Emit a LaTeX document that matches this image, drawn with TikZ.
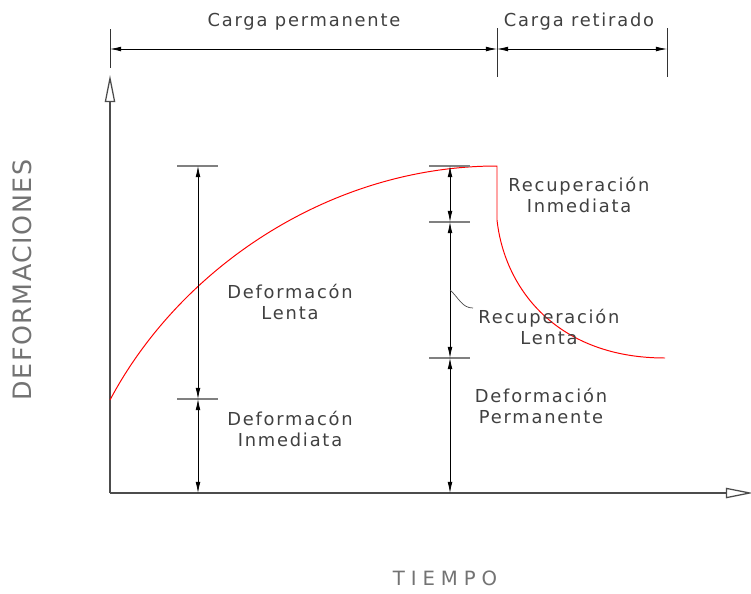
\documentclass[tikz,border=0pt]{standalone}
\usepackage{fontspec}
\newfontfamily\cadfont[LetterSpace=10]{DejaVu Sans}
\usetikzlibrary{arrows.meta}

\begin{document}
\begin{tikzpicture}[
  x=0.025cm, y=-0.025cm,
  dimline/.style={{Latex[length=2.8mm,width=1.2mm]}-{Latex[length=2.8mm,width=1.2mm]},
    black, line width=0.5pt},
  tickmark/.style={gray, line width=0.8pt},
  extline/.style={black!80, line width=0.6pt},
  axisline/.style={-{Triangle[open,length=6.8mm,width=2.6mm]},
    gray!60!black, line width=0.9pt},
  loadcurve/.style={red, line width=0.7pt},
  lbl/.style={font=\cadfont\fontsize{12.7}{15.6}\selectfont,
    text=black!75, align=center, inner sep=0pt},
  axislbl/.style={font=\cadfont\fontsize{18}{22}\selectfont\addfontfeature{LetterSpace=6},
    text=black!55, inner sep=0pt}
]
\useasboundingbox (0,0) rectangle (751,593);

% --- Ejes ---
\coordinate (O) at (110,493);
\coordinate (Ytop) at (110,75);
\coordinate (Xend) at (753,493);
\draw[axisline] (O) -- (Ytop);
\draw[axisline] (O) -- (Xend);

\node[axislbl, rotate=90] (ylab) at (22,280) {DEFORMACIONES};
\node[axislbl, font=\cadfont\fontsize{14}{16}\selectfont\addfontfeature{LetterSpace=30}]
  (xlab) at (445,578) {TIEMPO};

% --- Cotas superiores ---
\coordinate (T1) at (110,49);
\coordinate (T2) at (497,49);
\coordinate (T3) at (667,49);
\draw[extline] (110,29) -- (110,68);
\draw[extline] (497,28) -- (497,77);
\draw[extline] (667,28) -- (667,77);
\draw[dimline] (T1) -- (T2);
\draw[dimline] (T2) -- (T3);
\node[lbl] (cperm) at (304,22) {Carga permanente};
\node[lbl] (cret) at (579,22) {Carga retirado};

% --- Curva de deformacion ---
\coordinate (C0) at (110,400);
\coordinate (Cmax) at (497,166);
\coordinate (Crec) at (497,220);
\coordinate (Cend) at (665,358);
\draw[loadcurve] (C0) .. controls (180,268) and (330,166) .. (Cmax)
  -- (Crec) .. controls (505,292) and (560,358) .. (Cend);

% --- Cota izquierda ---
\coordinate (A1) at (198,166);
\coordinate (A2) at (198,399);
\coordinate (A3) at (198,493);
\draw[tickmark] (177,166) -- (218,166);
\draw[tickmark] (177,399) -- (218,399);
\draw[dimline] (A1) -- (A2);
\draw[dimline] (A2) -- (A3);

\node[lbl] (dlenta) at (290,302) {Deformacón\\Lenta};
\node[lbl] (dinm) at (290,429) {Deformacón\\Inmediata};

% --- Cota derecha ---
\coordinate (B1) at (450,166);
\coordinate (B2) at (450,222);
\coordinate (B3) at (450,358);
\coordinate (B4) at (450,493);
\draw[tickmark] (429,166) -- (470,166);
\draw[tickmark] (429,222) -- (470,222);
\draw[tickmark] (429,358) -- (470,358);
\draw[dimline] (B1) -- (B2);
\draw[dimline] (B2) -- (B3);
\draw[dimline] (B3) -- (B4);

\node[lbl] (rinm) at (579,195) {Recuperación\\Inmediata};
\node[lbl] (rlenta) at (549,327) {Recuperación\\Lenta};
\node[lbl] (dperm) at (541,406) {Deformación\\Permanente};

% --- Linea de referencia ---
\coordinate (L1) at (450,290);
\coordinate (L2) at (473,308);
\draw[black!70, line width=0.5pt] (L1) .. controls (459,298) and (462,308) .. (L2);

\end{tikzpicture}
\end{document}
